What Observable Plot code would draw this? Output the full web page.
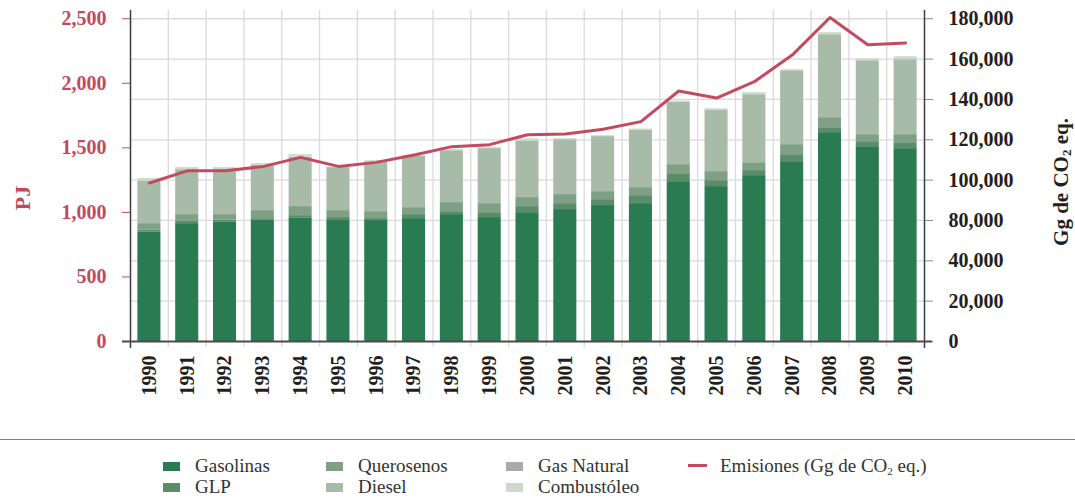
<!DOCTYPE html>
<html><head><meta charset="utf-8">
<script src="https://cdn.jsdelivr.net/npm/d3@7"></script>
<script src="https://cdn.jsdelivr.net/npm/@observablehq/plot@0.6"></script>
<style>
body{margin:0;background:#fff;font-family:"Liberation Serif",serif;}
#wrap{position:relative;width:1075px;height:498px;overflow:hidden}
#sep{position:absolute;left:0;top:439px;width:1075px;height:1px;background:#cd5f72;}
.li{position:absolute;font-size:19px;color:#333;line-height:20px;white-space:nowrap}
.sw{display:inline-block;width:17px;height:9px;margin-right:15px;vertical-align:1px}
.ln{display:inline-block;width:19px;height:3px;margin-right:13px;vertical-align:5px;background:#c44b5f}
sub{font-size:11px;vertical-align:-3px;line-height:0}
</style></head><body>
<div id="wrap"><div id="chart"></div><div id="sep"></div><div id="legend"></div></div>
<script>
const years = [1990,1991,1992,1993,1994,1995,1996,1997,1998,1999,2000,2001,2002,2003,2004,2005,2006,2007,2008,2009,2010];
const gasolinas   = [846,913,923,939,954,937,937,952,983,960,998,1022,1053,1068,1238,1200,1285,1393,1618,1509,1494];
const glp         = [16,18,16,13,21,23,15,31,23,38,47,46,46,62,62,46,39,54,38,39,46];
const querosenos  = [51,52,44,62,70,54,54,54,70,70,70,70,62,62,70,70,61,78,78,54,62];
const diesel      = [328,348,348,351,382,333,382,397,402,426,438,425,426,446,485,477,527,572,642,573,581];
const gasNatural  = [0,0,0,0,0,0,0,0,0,0,0,0,0,0,0,0,0,0,0,0,0];
const combustoleo = [21,16,16,13,20,5,13,8,8,8,16,8,7,8,8,10,15,8,16,15,23];
const emisiones   = [98600,104600,104600,106700,111300,106800,108800,112500,116600,117600,122500,122900,125200,129000,144200,140700,148800,162000,180600,167100,168000];

const fuelNames  = ["Gasolinas","GLP","Querosenos","Diesel","Gas Natural","Combustóleo"];
const fuelColors = ["#2a7a52","#5b8c69","#80a086","#a7bba8","#a9a9ad","#cdd9cd"];
const fuelSeries = [gasolinas, glp, querosenos, diesel, gasNatural, combustoleo];

const leftTicks = [0,500,1000,1500,2000,2500];
const rightTicksGg = [0,20000,40000,80000,100000,120000,140000,160000,180000];
const rightLabels = ["0","20,000","40,000","80,000","100,000","120,000","140,000","160,000","180,000"];

const pjTop = 2500;
const rightTickPJ = rightTicksGg.map((_, i) => i * pjTop / (rightTicksGg.length - 1));
const gg2pj = d3.scaleLinear().domain(rightTicksGg).range(rightTickPJ);

// stack the segments
const segs = [];
years.forEach((yr, i) => {
  let cum = 0;
  fuelSeries.forEach((s, k) => {
    segs.push({year: yr, fuel: fuelNames[k], color: fuelColors[k], y1: cum, y2: cum + s[i]});
    cum += s[i];
  });
});
const emis = years.map((yr, i) => ({year: yr, pj: gg2pj(emisiones[i])}));
const boundaries = years.slice(1).map(y => y - 0.5);
const half = 0.305;
const font = "Liberation Serif";

const plot = Plot.plot({
  width: 1075, height: 432,
  marginLeft: 130, marginRight: 151, marginTop: 10, marginBottom: 91,
  style: {fontFamily: font, background: "#fff"},
  x: {domain: [1989.5, 2010.5]},
  y: {domain: [0, 2564]},
  marks: [
    Plot.ruleY(rightTickPJ.slice(1), {stroke: "#dadada", strokeWidth: 1.3}),
    Plot.ruleX(boundaries, {stroke: "#dadada", strokeWidth: 1.3, insetBottom: -6}),
    Plot.rect(segs, {x1: d => d.year - half, x2: d => d.year + half, y1: "y1", y2: "y2", fill: "color"}),
    Plot.line(emis, {x: "year", y: "pj", stroke: "#c44b5f", strokeWidth: 3, strokeLinejoin: "round"}),
    Plot.ruleX([1989.5, 2010.5], {stroke: "#3d3d3d", strokeWidth: 1.5, insetBottom: -7}),
    Plot.axisY(leftTicks, {anchor: "left", tickSize: 8, tickPadding: 16, tickFormat: d3.format(","),
      color: "#c4485c", fontSize: 20, fontWeight: "bold", fontFamily: font, label: null}),
    Plot.axisY(rightTickPJ, {anchor: "right", tickSize: 8, tickPadding: 16,
      tickFormat: (d) => rightLabels[rightTickPJ.indexOf(d)],
      stroke: "#8a8a8a", fill: "#231f20", fontSize: 20, fontWeight: "bold", fontFamily: font, label: null}),
    Plot.axisX(years, {anchor: "bottom", tickSize: 0, tickPadding: 14, rotate: -90, textAnchor: "end", lineAnchor: "middle",
      tickFormat: d => String(d),
      fill: "#231f20", fontSize: 20, fontWeight: "bold", fontFamily: font, label: null}),
    Plot.ruleY([0], {stroke: "#4a4a4a", strokeWidth: 2, insetLeft: -8, insetRight: -8})
  ]
});
document.getElementById("chart").appendChild(plot);

// axis titles
const svg = d3.select(plot);
svg.append("text").attr("transform", "translate(30,198) rotate(-90)")
  .attr("text-anchor", "middle").attr("fill", "#c4485c")
  .style("font", `bold 22px "${font}"`).text("PJ");
const t2 = svg.append("text").attr("transform", "translate(1068,182) rotate(-90)")
  .attr("text-anchor", "middle").attr("fill", "#231f20")
  .style("font", `bold 21px "${font}"`);
t2.append("tspan").text("Gg de CO");
t2.append("tspan").attr("baseline-shift", "-25%").style("font-size", "13px").text("2");
t2.append("tspan").text(" eq.");

// legend
const legendItems = [
  {name: "Gasolinas", color: fuelColors[0], col: 0, row: 0},
  {name: "GLP", color: fuelColors[1], col: 0, row: 1},
  {name: "Querosenos", color: fuelColors[2], col: 1, row: 0},
  {name: "Diesel", color: fuelColors[3], col: 1, row: 1},
  {name: "Gas Natural", color: fuelColors[4], col: 2, row: 0},
  {name: "Combustóleo", color: fuelColors[5], col: 2, row: 1},
  {name: "Emisiones (Gg de CO<sub>2</sub> eq.)", line: true, col: 3, row: 0}
];
const colX = [163, 326, 506, 688];
const rowY = [456, 477];
const leg = document.getElementById("legend");
legendItems.forEach(it => {
  const d = document.createElement("div");
  d.className = "li";
  d.style.left = colX[it.col] + "px";
  d.style.top = rowY[it.row] + "px";
  d.innerHTML = (it.line ? `<span class="ln"></span>` : `<span class="sw" style="background:${it.color}"></span>`) + it.name;
  leg.appendChild(d);
});
</script>
</body></html>
